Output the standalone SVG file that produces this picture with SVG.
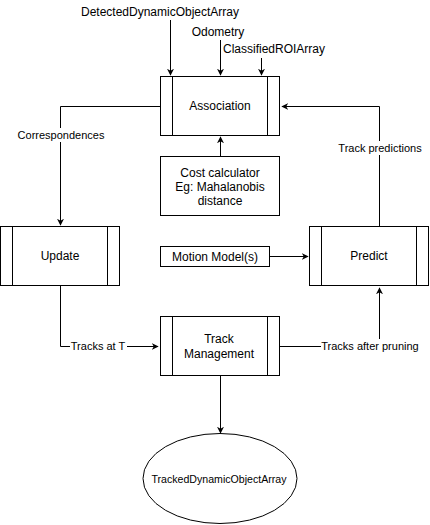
<svg xmlns="http://www.w3.org/2000/svg" width="430" height="525" viewBox="0 0 430 525">
<defs>
<marker id="arr" viewBox="0 0 10 10" refX="9" refY="5" markerWidth="7" markerHeight="7" markerUnits="userSpaceOnUse" orient="auto">
<path d="M0,0 L10,5 L0,10 L3,5 Z" fill="#000"/>
</marker>
<style>
.box{fill:#fff;stroke:#000;stroke-width:1}
.ln{fill:none;stroke:#000;stroke-width:1}
.c{stroke:#000;stroke-width:1;fill:none;marker-end:url(#arr)}
text{font-family:"Liberation Sans",Arial,sans-serif;font-size:12px;fill:#000;text-anchor:middle}
.lbl{font-size:11px}
.sm{font-size:10.6px}
.bg{fill:#fff}
</style>
</defs>
<rect width="430" height="525" fill="#fff"/>
<g id="connectors">
<path class="c" d="M170.5,20 V75"/>
<path class="c" d="M220.5,40 V75"/>
<path class="c" d="M261.5,58 V75"/>
<path class="c" d="M160,106.5 H60.5 V225"/>
<path class="c" d="M220.5,156 V137"/>
<path class="c" d="M270,256.5 H308"/>
<path class="c" d="M379.5,226 V106.5 H282"/>
<path class="c" d="M60.5,286 V346.5 H158"/>
<path class="c" d="M280,346.5 H379.5 V288"/>
<path class="c" d="M220.5,376 V433"/>
</g>
<g id="edge-labels">
<rect class="bg" x="16" y="128" width="90" height="14"/>
<text class="lbl" x="61" y="139">Correspondences</text>
<rect class="bg" x="337" y="141" width="86" height="14"/>
<text class="lbl" x="380" y="152">Track predictions</text>
<rect class="bg" x="70" y="339" width="57" height="14"/>
<text class="lbl" x="98" y="350">Tracks at T</text>
<rect class="bg" x="321" y="339" width="98" height="14"/>
<text class="lbl" x="370" y="350">Tracks after pruning</text>
</g>
<g id="inputs">
<text x="160" y="16">DetectedDynamicObjectArray</text>
<text x="218" y="36">Odometry</text>
<text x="274" y="53">ClassifiedROIArray</text>
</g>
<g id="association">
<rect class="box" x="160.5" y="76.5" width="119" height="59"/>
<path class="ln" d="M172.5,76.5 V135.5 M267.5,76.5 V135.5"/>
<text x="220" y="110">Association</text>
</g>
<g id="cost-calculator">
<rect class="box" x="160.5" y="156.5" width="119" height="59"/>
<text x="220" y="177">Cost calculator</text>
<text x="220" y="191">Eg: Mahalanobis</text>
<text x="220" y="205">distance</text>
</g>
<g id="update">
<rect class="box" x="0.5" y="226.5" width="119" height="59"/>
<path class="ln" d="M12.5,226.5 V285.5 M107.5,226.5 V285.5"/>
<text x="60" y="260">Update</text>
</g>
<g id="motion-model">
<rect class="box" x="160.5" y="246.5" width="109" height="20"/>
<text x="215" y="261">Motion Model(s)</text>
</g>
<g id="predict">
<rect class="box" x="309.5" y="226.5" width="119" height="59"/>
<path class="ln" d="M321.5,226.5 V285.5 M416.5,226.5 V285.5"/>
<text x="369" y="260">Predict</text>
</g>
<g id="track-management">
<rect class="box" x="160.5" y="316.5" width="119" height="59"/>
<path class="ln" d="M172.5,316.5 V375.5 M267.5,316.5 V375.5"/>
<text x="219" y="343">Track</text>
<text x="219" y="358">Management</text>
</g>
<g id="tracked-output">
<ellipse class="box" cx="220" cy="478.5" rx="77" ry="45"/>
<text class="sm" x="219" y="483">TrackedDynamicObjectArray</text>
</g>
</svg>
